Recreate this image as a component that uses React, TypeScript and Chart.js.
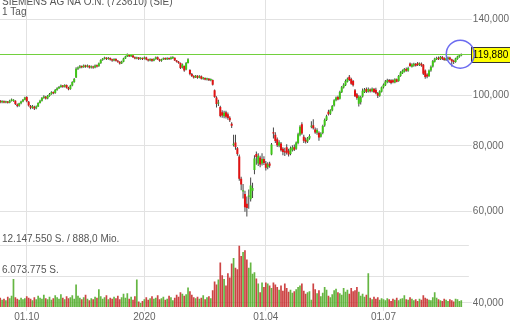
import React, { useEffect, useRef } from 'react';
import { Chart, registerables } from 'chart.js';

Chart.register(...registerables);

const titleText = 'SIEMENS AG NA O.N. (723610) (SIE)';
const periodText = '1 Tag';
const monthTickIndex = [14, 76, 140, 202];
const monthTickLabels = ['01.10', '2020', '01.04', '01.07'];
const priceTicks = [40, 60, 80, 100, 140];
const volumeTicks = [6.073775, 12.14755]; // million shares
const turnoverLabel = '888,0 Mio.';
const lastPrice = 119.88;

// one value per trading day (Sep 2019 .. Aug 2020), EUR
const opens = [
  97.6, 97.0, 97.4, 96.9, 97.2, 96.8, 97.6, 97.5, 97.6, 96.0, 95.5, 96.5, 97.3, 98.1,
  99.2, 97.2, 95.4, 94.7, 95.1, 94.4, 95.2, 96.7, 97.6, 98.8, 99.4, 98.6, 99.7, 100.6, 101.4, 101.0, 102.4, 103.1, 103.7, 104.4, 103.8, 104.6, 103.4,
  102.8, 104.4, 106.0, 108.2, 112.4, 112.9, 113.7, 113.2, 114.0, 113.4, 113.9, 113.1, 113.6, 113.0, 114.1, 113.7, 115.2, 116.8, 117.5, 118.0, 117.3,
  117.9, 117.1, 116.6, 117.4, 116.5, 115.9, 115.1, 116.0, 117.6, 118.7, 119.5, 118.8, 119.2, 118.3, 117.6, 118.1, 117.4, 117.9,
  117.5, 118.2, 117.1, 116.6, 117.3, 116.5, 117.4, 118.3, 117.2, 116.4, 117.1, 117.8, 117.2, 117.9, 117.3, 117.8, 118.0, 116.6, 116.0, 115.3, 113.0, 113.8,
  112.0, 115.3, 111.8, 109.8, 108.9, 108.2, 109.0, 108.1, 108.8, 107.6, 107.9, 107.2, 107.6, 106.9, 107.0, 102.3, 99.0, 96.4, 95.0, 92.8,
  91.2, 92.8, 92.0, 90.6, 88.2, 80.3, 81.2, 79.2, 76.3, 69.2, 65.4, 64.7, 62.0, 63.9, 63.2, 65.6, 71.9, 77.2, 74.0, 76.0, 74.0, 75.5,
  74.0, 72.8, 74.0, 77.0, 84.8, 84.0, 82.4, 80.0, 80.8, 79.0, 78.0, 79.5, 78.3, 77.2, 78.5, 79.5, 79.0, 81.0, 84.0, 88.0,
  83.3, 82.2, 81.6, 82.6, 87.0, 87.6, 86.0, 84.8, 84.8, 83.3, 84.7, 87.5, 89.7, 93.0, 92.2, 93.6, 95.6, 97.8, 99.2, 98.5,
  101.4, 103.5, 104.5, 106.2, 108.5, 107.5, 106.5, 102.3, 100.5, 96.3, 97.0, 99.5, 101.5, 102.8, 101.6, 102.6, 101.8, 102.9, 102.5, 101.0, 99.8, 101.6,
  103.6, 104.5, 106.0, 107.0, 106.8, 106.8, 105.8, 107.3, 106.5, 108.9, 110.2, 111.0, 112.3, 111.4, 115.0, 113.4, 114.0, 114.8, 115.2, 114.2, 114.9, 114.4, 111.5,
  109.6, 108.8, 111.5, 113.5, 116.0, 117.2, 118.0, 117.3, 118.4, 117.8, 116.8, 117.3, 118.2, 117.2, 116.5, 115.8, 117.4, 118.5, 119.2,
];
const highs = [
  97.9, 97.8, 97.7, 97.6, 97.5, 98.0, 98.6, 98.3, 97.8, 96.4, 96.8, 97.6, 98.4, 99.4,
  99.6, 97.5, 95.8, 95.8, 95.5, 95.6, 97.0, 98.0, 99.2, 100.0, 99.7, 100.1, 101.0, 101.8, 101.7, 102.8, 103.6, 104.2, 104.9, 104.7, 105.0, 104.9, 103.8,
  104.8, 106.4, 107.9, 113.2, 113.6, 114.3, 114.1, 114.6, 114.4, 114.5, 114.2, 114.0, 113.9, 114.6, 114.5, 115.6, 117.2, 117.9, 118.5, 118.3, 118.4,
  118.2, 117.5, 117.8, 117.7, 116.9, 116.2, 116.4, 118.0, 119.1, 120.3, 119.9, 119.6, 119.5, 118.6, 118.5, 118.4, 118.3, 118.2,
  118.6, 118.5, 117.5, 117.7, 117.6, 117.8, 118.7, 118.6, 117.5, 117.5, 118.2, 118.1, 118.3, 118.2, 118.6, 118.8, 118.2, 116.9, 116.3, 115.5, 115.0, 114.0,
  115.8, 117.8, 112.2, 110.3, 109.3, 109.4, 109.3, 109.2, 109.1, 108.4, 108.2, 108.0, 107.9, 107.7, 107.2, 102.6, 99.6, 98.0, 95.5, 93.6,
  93.4, 93.4, 92.7, 91.2, 88.8, 84.0, 84.0, 79.6, 77.0, 69.8, 67.6, 65.6, 64.0, 66.0, 69.6, 68.0, 76.8, 78.0, 77.4, 76.6, 77.4, 76.4,
  74.8, 74.4, 74.6, 81.0, 86.8, 85.0, 83.0, 82.0, 81.4, 79.5, 79.3, 80.6, 79.0, 79.8, 80.2, 80.5, 81.6, 84.8, 87.6, 88.8,
  84.0, 83.0, 83.2, 84.2, 89.2, 90.0, 86.8, 86.5, 85.3, 85.0, 87.8, 90.3, 91.8, 93.8, 94.0, 95.8, 98.3, 99.5, 99.8, 102.0,
  104.2, 105.4, 107.2, 108.2, 109.4, 108.0, 107.0, 102.8, 101.0, 100.0, 99.8, 103.0, 103.3, 103.5, 103.5, 103.0, 103.5, 103.2, 103.4, 101.5, 102.3, 104.0,
  105.3, 107.0, 107.6, 107.5, 107.3, 107.3, 107.8, 107.7, 109.4, 111.2, 112.0, 112.8, 113.0, 113.4, 115.5, 115.2, 115.4, 115.3, 115.8, 115.6, 115.5, 114.8, 112.0,
  110.2, 112.0, 114.0, 116.8, 118.0, 118.5, 118.6, 118.9, 118.9, 118.3, 118.0, 118.7, 118.5, 117.5, 117.0, 118.0, 119.0, 119.7, 120.3,
];
const lows = [
  96.6, 96.6, 96.5, 96.6, 96.4, 96.5, 97.3, 97.2, 95.8, 94.9, 95.1, 96.1, 97.0, 97.8,
  97.0, 95.2, 94.0, 94.2, 93.7, 94.0, 95.0, 96.4, 97.3, 98.5, 98.2, 98.3, 99.4, 100.2, 100.5, 100.7, 102.0, 102.8, 103.4, 103.4, 103.5, 103.0, 102.3,
  102.5, 104.1, 105.7, 107.9, 111.8, 112.5, 112.7, 112.9, 112.9, 113.0, 112.6, 112.6, 112.4, 112.7, 113.1, 113.4, 114.9, 116.4, 117.1, 116.9, 117.0,
  116.6, 116.0, 116.2, 116.1, 115.4, 114.6, 114.8, 115.7, 117.3, 118.4, 118.4, 118.4, 117.9, 117.2, 117.2, 116.9, 117.0, 116.8,
  117.1, 116.7, 116.1, 116.2, 116.0, 116.2, 117.0, 116.8, 115.9, 116.0, 116.8, 116.8, 116.9, 116.9, 117.0, 117.4, 116.3, 115.5, 114.9, 112.3, 112.6, 111.0,
  111.7, 115.0, 109.3, 108.4, 107.7, 107.9, 107.6, 107.8, 107.2, 107.1, 106.8, 106.7, 106.5, 106.4, 104.4, 98.9, 94.8, 95.4, 90.8, 90.6,
  90.4, 90.3, 89.8, 88.9, 86.6, 79.8, 78.6, 76.6, 68.6, 65.8, 63.4, 59.8, 58.6, 60.6, 62.6, 63.6, 70.6, 73.6, 73.2, 72.8, 73.4, 73.5,
  71.8, 72.2, 72.6, 76.8, 82.6, 81.0, 79.6, 79.5, 78.0, 76.8, 76.5, 77.0, 76.3, 76.8, 78.0, 78.2, 78.6, 80.6, 83.5, 84.0,
  81.0, 80.8, 81.0, 82.2, 86.5, 86.0, 84.4, 84.0, 81.8, 83.0, 84.2, 87.0, 89.3, 91.5, 91.7, 93.2, 95.2, 97.4, 97.8, 98.2,
  101.0, 103.0, 104.2, 105.8, 106.5, 104.8, 104.0, 99.2, 98.0, 95.2, 96.0, 99.0, 101.0, 101.0, 101.2, 101.2, 101.3, 101.0, 100.5, 98.8, 99.4, 101.2,
  103.0, 104.2, 105.5, 105.6, 105.0, 105.4, 105.4, 105.9, 106.2, 108.5, 109.8, 110.6, 110.9, 111.0, 113.4, 113.0, 113.4, 113.5, 113.8, 113.8, 113.4, 109.4, 107.6,
  107.8, 108.5, 111.0, 113.0, 115.6, 116.8, 116.8, 116.9, 116.9, 116.4, 116.3, 116.9, 116.7, 113.5, 114.8, 115.4, 117.0, 118.0, 118.8,
];
const closes = [
  97.0, 97.4, 96.9, 97.2, 96.8, 97.6, 98.2, 97.8, 96.2, 95.4, 96.5, 97.3, 98.1, 99.0,
  97.4, 95.6, 94.6, 95.3, 94.3, 95.2, 96.7, 97.6, 98.8, 99.5, 98.6, 99.7, 100.6, 101.4, 100.9, 102.4, 103.2, 103.7, 104.4, 103.8, 104.6, 103.4, 102.7,
  104.4, 106.0, 107.4, 112.4, 112.9, 113.7, 113.2, 114.0, 113.4, 113.9, 113.1, 113.6, 113.0, 114.1, 113.6, 115.2, 116.8, 117.5, 118.0, 117.3, 117.9,
  117.1, 116.6, 117.4, 116.5, 115.9, 115.1, 116.0, 117.6, 118.7, 119.5, 118.8, 119.2, 118.3, 117.6, 118.1, 117.4, 117.9, 117.3,
  118.2, 117.1, 116.6, 117.3, 116.5, 117.4, 118.3, 117.2, 116.4, 117.1, 117.8, 117.2, 117.9, 117.3, 118.1, 118.3, 116.6, 115.9, 115.3, 112.8, 114.6, 111.6,
  115.3, 117.2, 109.8, 108.9, 108.2, 109.0, 108.1, 108.8, 107.6, 107.9, 107.2, 107.6, 106.9, 107.3, 104.8, 99.3, 96.2, 96.8, 91.3, 91.5,
  92.6, 91.0, 90.5, 89.6, 87.4, 80.6, 79.6, 77.2, 69.2, 67.5, 65.7, 61.0, 60.8, 64.2, 67.2, 66.4, 75.7, 76.2, 76.6, 73.7, 75.5, 74.2,
  72.6, 73.8, 73.3, 80.5, 84.5, 81.7, 80.2, 81.3, 78.5, 77.9, 77.7, 77.6, 77.0, 79.2, 79.5, 78.6, 81.2, 84.2, 87.0, 84.5,
  81.8, 81.5, 82.7, 83.6, 87.4, 86.5, 84.9, 85.8, 83.0, 84.5, 87.3, 89.7, 91.2, 92.0, 93.6, 95.4, 97.8, 99.0, 98.2, 101.5,
  103.6, 104.8, 106.5, 107.6, 107.0, 105.2, 104.5, 99.6, 98.8, 99.5, 99.2, 102.0, 102.6, 101.6, 102.8, 101.8, 102.9, 101.5, 100.9, 99.8, 101.8, 103.6,
  104.8, 106.3, 106.9, 106.1, 105.6, 105.9, 107.3, 106.2, 108.9, 110.6, 111.4, 112.3, 111.4, 112.8, 113.8, 114.6, 114.9, 113.9, 114.3, 115.1, 114.0, 110.0, 108.4,
  108.6, 111.6, 113.4, 116.3, 117.5, 117.9, 117.2, 118.4, 117.5, 116.8, 117.6, 118.2, 117.1, 116.2, 115.8, 117.6, 118.6, 119.3, 119.88,
];
// million shares
const volumes = [
  1.8, 1.4, 1.6, 1.3, 2.0, 1.7, 2.2, 5.5, 1.9, 1.6, 1.4, 1.8, 1.5, 1.7,
  2.1, 1.8, 1.6, 1.3, 1.9, 1.5, 2.2, 1.8, 1.6, 2.4, 1.7, 1.5, 2.0, 1.4, 1.7, 2.3, 1.9, 1.6, 2.5, 1.8, 1.5, 2.1, 1.7,
  1.9, 2.3, 1.6, 4.4, 2.2, 1.8, 1.5, 1.9, 2.4, 1.6, 1.3, 1.7, 1.5, 2.0, 1.8, 3.5, 2.1, 1.6, 1.9, 2.3, 1.5,
  1.8, 1.6, 2.0, 1.7, 2.2, 1.5, 1.9, 2.6, 1.8, 2.7, 1.6, 2.0, 1.4, 2.1, 5.4, 1.1, 0.8, 1.2,
  1.5, 1.9, 1.4, 1.7, 2.1, 1.6, 1.8, 2.3, 1.5, 1.7, 2.0, 1.4, 1.6, 2.2, 1.9, 1.3, 1.8, 2.4, 2.0, 2.9, 2.6, 2.2,
  2.5, 3.8, 3.1, 2.4, 1.9, 1.7, 2.0, 1.6, 1.8, 2.3, 1.5, 1.9, 2.1, 1.7, 3.3, 5.0, 4.4, 5.4, 8.7, 6.2,
  5.5, 4.2, 6.6, 5.8, 8.5, 9.6, 7.7, 7.4, 12.0, 10.0, 10.8, 11.1, 9.3, 7.7, 8.7, 6.5, 6.8, 5.6, 4.6, 2.9, 4.8, 3.9,
  4.8, 4.6, 4.2, 3.7, 4.8, 4.4, 3.9, 3.4, 4.2, 3.2, 4.6, 3.7, 3.0, 3.4, 2.8, 3.1, 3.5, 3.9, 4.2, 4.6,
  3.2, 2.6, 2.9, 3.1, 1.4, 4.6, 3.5, 2.7, 3.3, 2.1, 2.8, 3.9, 3.4, 2.2, 1.9, 2.5, 3.3, 3.6, 2.9, 2.7,
  2.4, 3.7, 3.0, 3.4, 2.6, 3.7, 3.1, 3.3, 3.9, 3.0, 2.2, 2.6, 2.0, 2.4, 6.6, 1.8, 1.5, 2.0, 1.6, 1.9, 1.4, 1.7,
  1.5, 1.3, 1.7, 1.5, 1.2, 1.6, 1.4, 1.8, 1.3, 1.6, 1.7, 2.3, 1.5, 1.4, 1.9, 1.6, 1.3, 1.5, 1.2, 1.6, 1.4, 2.3, 1.8,
  1.6, 1.4, 1.3, 1.9, 2.9, 1.8, 1.5, 1.3, 1.2, 1.6, 1.4, 1.2, 1.5, 1.3, 1.1, 1.6, 1.5, 1.2, 1.3,
];

const FONT = '"Liberation Sans", Arial, Helvetica, sans-serif';
const GRID = '#e2e2e2';

function fmtPrice(v: number) {
  return v.toFixed(3).replace('.', ',');
}
function fmtShares(m: number) {
  return String(Math.round(m * 1e6)).replace(/\B(?=(\d{3})+(?!\d))/g, '.');
}

export default function App() {
  const ref = useRef<HTMLCanvasElement>(null);

  useEffect(() => {
    const canvas = ref.current;
    if (!canvas) return;
    const up = closes.map((c, i) => c >= opens[i]);

    const overlay = {
      id: 'overlay',
      afterDatasetsDraw(chart: any) {
        const { ctx, chartArea, scales } = chart;
        const y = Math.round(scales.y.getPixelForValue(lastPrice)) + 0.5;
        ctx.save();
        ctx.strokeStyle = '#72d03e';
        ctx.lineWidth = 1;
        ctx.beginPath();
        ctx.moveTo(chartArea.left, y);
        ctx.lineTo(chartArea.right + 3, y);
        ctx.stroke();
        ctx.restore();
      },
      afterDraw(chart: any) {
        const { ctx, chartArea, scales } = chart;
        const y = scales.y.getPixelForValue(lastPrice);
        const x = scales.x.getPixelForValue(closes.length - 1);
        ctx.save();
        const bx = Math.round(chartArea.right) + 2.5;
        const by = Math.round(y - 7.5) + 0.5;
        ctx.fillStyle = '#ffff00';
        ctx.fillRect(bx, by, 45, 15);
        ctx.strokeStyle = '#333';
        ctx.lineWidth = 1;
        ctx.strokeRect(bx, by, 45, 15);
        ctx.fillStyle = '#000';
        ctx.font = `10px ${FONT}`;
        ctx.textBaseline = 'middle';
        ctx.textAlign = 'left';
        ctx.fillText(fmtPrice(lastPrice), chartArea.right + 4, by + 7.5);
        ctx.strokeStyle = '#6b6bf0';
        ctx.lineWidth = 1.5;
        ctx.beginPath();
        ctx.arc(x - 1, y, 14, 0, Math.PI * 2);
        ctx.stroke();
        ctx.fillStyle = '#555';
        ctx.textBaseline = 'alphabetic';
        ctx.fillText(titleText, 2, 5);
        ctx.fillText(periodText, 2, 14.5);
        ctx.restore();
      },
    };

    const chart = new Chart(canvas, {
      type: 'bar',
      data: {
        datasets: [
          {
            label: 'body',
            data: opens.map((o, i) => ({ x: i, y: [o, closes[i]] })) as any,
            yAxisID: 'y',
            backgroundColor: up.map((u) => (u ? '#3fc617' : '#e31212')),
            barThickness: 2,
            minBarLength: 1.2,
            grouped: false,
            inflateAmount: 0,
            order: 0,
          } as any,
          {
            label: 'wick',
            data: lows.map((l, i) => ({ x: i, y: [l, highs[i]] })) as any,
            yAxisID: 'y',
            backgroundColor: '#444444',
            barThickness: 1,
            grouped: false,
            inflateAmount: 0,
            order: 1,
          } as any,
          {
            label: 'volume',
            data: volumes.map((v, i) => ({ x: i, y: v })) as any,
            yAxisID: 'yv',
            backgroundColor: up.map((u) => (u ? 'rgba(80,172,40,0.88)' : 'rgba(198,42,42,0.88)')),
            barThickness: 1.7,
            grouped: false,
            inflateAmount: 0,
            order: 2,
          } as any,
        ],
      },
      options: {
        animation: false,
        responsive: false,
        events: [],
        layout: { padding: 0 },
        plugins: {
          legend: { display: false },
          tooltip: { enabled: false },
          title: { display: false },
        },
        scales: {
          x: {
            type: 'linear',
            min: -0.1,
            max: 247,
            bounds: 'data',
            offset: false,
            grid: { offset: false, color: GRID, drawTicks: true, tickLength: 4 },
            border: { display: false },
            ticks: {
              autoSkip: false,
              maxRotation: 0,
              padding: 0,
              color: '#666',
              font: { size: 10, family: FONT },
              callback: (v: any) => {
                const k = monthTickIndex.indexOf(Number(v));
                return k >= 0 ? monthTickLabels[k] : '';
              },
            },
            afterBuildTicks: (axis: any) => {
              axis.ticks = monthTickIndex.map((v) => ({ value: v }));
            },
            afterFit: (axis: any) => {
              axis.paddingLeft = 0;
              axis.paddingRight = 0;
            },
          } as any,
          y: {
            type: 'logarithmic',
            position: 'right',
            min: 39.3,
            max: 152.25,
            bounds: 'data',
            beginAtZero: false,
            grid: { color: GRID, tickLength: 3 },
            border: { display: false },
            ticks: {
              padding: 1,
              color: '#666',
              font: { size: 10, family: FONT },
              callback: (v: any) => fmtPrice(Number(v)),
            },
            afterBuildTicks: (axis: any) => {
              axis.ticks = priceTicks.map((v) => ({ value: v }));
            },
            afterFit: (axis: any) => {
              axis.paddingTop = 0;
              axis.paddingBottom = 0;
            },
          } as any,
          yv: {
            type: 'linear',
            position: 'left',
            min: 0,
            max: 60.15,
            bounds: 'data',
            grid: { color: GRID, drawTicks: false },
            border: { display: false },
            ticks: {
              mirror: true,
              padding: 2,
              labelOffset: -6,
              color: '#555',
              font: { size: 10, family: FONT },
              callback: (v: any) => {
                const s = fmtShares(Number(v)) + ' S.';
                return Math.abs(Number(v) - volumeTicks[1]) < 1e-6 ? s + ' / ' + turnoverLabel : s;
              },
            },
            afterBuildTicks: (axis: any) => {
              axis.ticks = volumeTicks.map((v) => ({ value: v }));
            },
            afterFit: (axis: any) => {
              axis.width = 0;
              axis.paddingTop = 0;
              axis.paddingBottom = 0;
            },
          } as any,
        },
      },
      plugins: [overlay],
    });

    return () => chart.destroy();
  }, []);

  return (
    <div style={{ position: 'fixed', left: 0, top: 0, width: 510, height: 323, background: '#fff' }}>
      <canvas ref={ref} width={510} height={323} style={{ display: 'block' }} />
    </div>
  );
}
